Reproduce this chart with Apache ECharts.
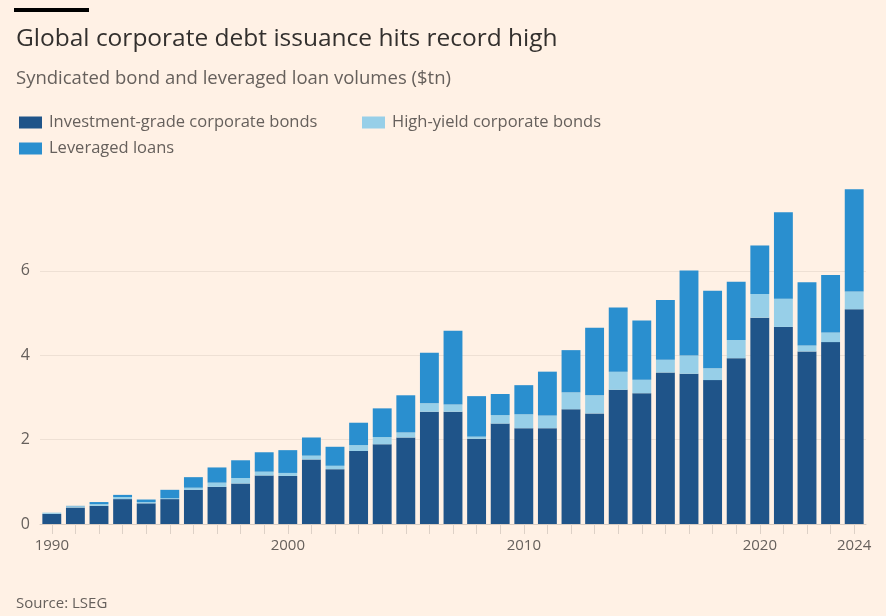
<!DOCTYPE html>
<html>
<head>
<meta charset="utf-8">
<script src="https://cdn.jsdelivr.net/npm/echarts@6/dist/echarts.min.js"></script>
<style>
  html, body { margin: 0; padding: 0; background: #FFF1E5; }
  #chart { width: 886px; height: 616px; }
</style>
</head>
<body>
<div id="chart"></div>
<script>
const years = ['1990','1991','1992','1993','1994','1995','1996','1997','1998','1999',
  '2000','2001','2002','2003','2004','2005','2006','2007','2008','2009',
  '2010','2011','2012','2013','2014','2015','2016','2017','2018','2019',
  '2020','2021','2022','2023','2024'];
const investmentGrade = [0.24,0.39,0.43,0.59,0.49,0.59,0.81,0.88,0.96,1.15,
  1.14,1.53,1.30,1.73,1.89,2.05,2.66,2.66,2.02,2.38,
  2.27,2.27,2.72,2.62,3.18,3.10,3.59,3.56,3.41,3.93,
  4.89,4.67,4.09,4.31,5.09];
const highYield = [0.03,0.03,0.04,0.05,0.03,0.02,0.05,0.10,0.13,0.09,
  0.07,0.09,0.08,0.14,0.17,0.12,0.20,0.17,0.05,0.20,
  0.33,0.30,0.40,0.43,0.43,0.32,0.30,0.43,0.28,0.43,
  0.56,0.67,0.14,0.23,0.42];
const leveragedLoans = [0.00,0.01,0.05,0.05,0.06,0.20,0.25,0.36,0.42,0.46,
  0.54,0.43,0.45,0.53,0.68,0.88,1.20,1.75,0.96,0.50,
  0.69,1.04,1.00,1.60,1.52,1.40,1.42,2.02,1.84,1.38,
  1.15,2.05,1.50,1.36,2.42];
const shownYearLabels = ['1990','2000','2010','2020','2024'];
const yTicks = [0, 2, 4, 6];

const FONT = '"Open Sans", Lato, sans-serif';
const chart = echarts.init(document.getElementById('chart'), null, { renderer: 'canvas' });

const colors = { ig: '#1f5489', hy: '#97cfe8', ll: '#2a8fcf' };

chart.setOption({
  backgroundColor: '#FFF1E5',
  animation: false,
  textStyle: { fontFamily: FONT },
  graphic: [
    { type: 'rect', left: 14, top: 8, shape: { width: 75, height: 4 }, style: { fill: '#000000' } }
  ],
  title: [
    { text: 'Global corporate debt issuance hits record high', left: 11, top: 22,
      textStyle: { fontFamily: FONT, fontSize: 24.5, fontWeight: 'normal', color: '#33302e' } },
    { text: 'Syndicated bond and leveraged loan volumes ($tn)', left: 11, top: 64,
      textStyle: { fontFamily: FONT, fontSize: 18.5, fontWeight: 'normal', color: '#66605c' } },
    { text: 'Source: LSEG', left: 11, top: 591,
      textStyle: { fontFamily: FONT, fontSize: 15, fontWeight: 'normal', color: '#66605c' } }
  ],
  legend: [
    { data: ['Investment-grade corporate bonds'], left: 14, top: 109, icon: 'rect',
      itemWidth: 23, itemHeight: 12, selectedMode: false,
      textStyle: { fontFamily: FONT, fontSize: 16.5, color: '#66605c', padding: [0,0,0,2] } },
    { data: ['High-yield corporate bonds'], left: 357, top: 109, icon: 'rect',
      itemWidth: 23, itemHeight: 12, selectedMode: false,
      textStyle: { fontFamily: FONT, fontSize: 16.5, color: '#66605c', padding: [0,0,0,2] } },
    { data: ['Leveraged loans'], left: 14, top: 135, icon: 'rect',
      itemWidth: 23, itemHeight: 12, selectedMode: false,
      textStyle: { fontFamily: FONT, fontSize: 16.5, color: '#66605c', padding: [0,0,0,2] } }
  ],
  grid: { left: 40, right: 20, top: 186.4, bottom: 92, containLabel: false },
  xAxis: {
    type: 'category',
    data: years,
    axisLine: { show: true, lineStyle: { color: '#d9cdc3', width: 1 } },
    axisTick: { show: true, interval: 0, alignWithLabel: true, length: 10, lineStyle: { color: '#ddd1c7' } },
    axisLabel: {
      interval: 0,
      margin: 14,
      fontFamily: FONT, fontSize: 15, color: '#66605c',
      formatter: function (v) { return shownYearLabels.indexOf(v) >= 0 ? v : ''; }
    }
  },
  yAxis: {
    type: 'value',
    min: 0, max: 8, interval: 2,
    axisLine: { show: false },
    axisTick: { show: false },
    splitLine: { show: true, showMaxLine: false, showMinLine: false, lineStyle: { color: '#eee0d4', width: 1 } },
    axisLabel: {
      margin: 10, fontFamily: FONT, fontSize: 16, color: '#66605c',
      showMaxLabel: false,
      formatter: function (v) { return yTicks.indexOf(v) >= 0 ? String(v) : ''; }
    }
  },
  series: [
    { name: 'Investment-grade corporate bonds', type: 'bar', stack: 'total', data: investmentGrade,
      itemStyle: { color: colors.ig }, barCategoryGap: '20%' },
    { name: 'High-yield corporate bonds', type: 'bar', stack: 'total', data: highYield,
      itemStyle: { color: colors.hy } },
    { name: 'Leveraged loans', type: 'bar', stack: 'total', data: leveragedLoans,
      itemStyle: { color: colors.ll } }
  ]
});
</script>
</body>
</html>
